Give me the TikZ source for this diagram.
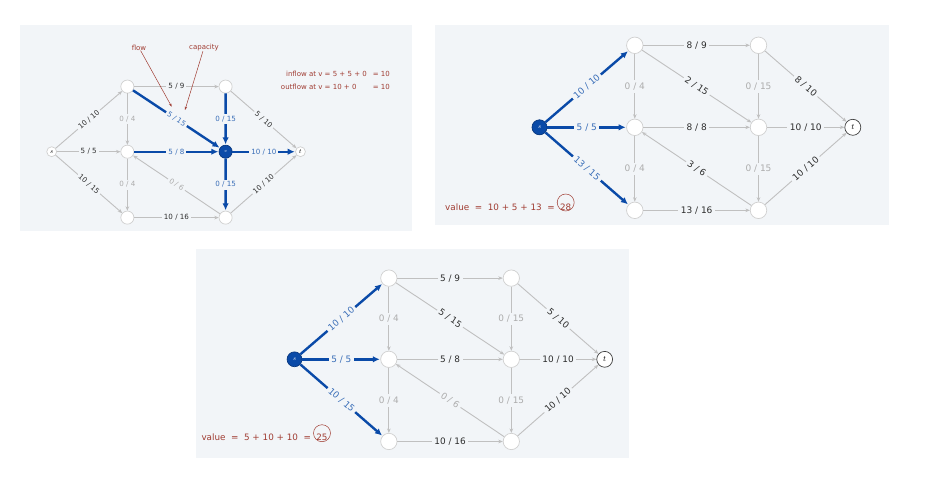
\documentclass[tikz,border=0pt]{standalone}
\usepackage{fontspec}
\setmainfont{DejaVu Sans}
\usetikzlibrary{arrows.meta,positioning}

\definecolor{panelbg}{RGB}{242,245,248}
\definecolor{flowblue}{RGB}{10,74,168}
\definecolor{flowtext}{RGB}{58,110,184}
\definecolor{edgegray}{RGB}{192,192,192}
\definecolor{ringgray}{RGB}{208,208,208}
\definecolor{usedtext}{RGB}{45,45,45}
\definecolor{zerotext}{RGB}{172,172,172}
\definecolor{notered}{RGB}{160,60,50}

\tikzset{
  vertex/.style={circle, draw=ringgray, fill=white, line width=0.7pt,
    minimum size=16.5pt, inner sep=0pt, font=\fontsize{8}{8}\selectfont},
  hot/.style={vertex, draw=flowblue!75!black, fill=flowblue, text=white},
  sink/.style={vertex, draw=black!75},
  used/.style={draw=edgegray, line width=0.9pt, -{Stealth[length=4.5pt,width=3.6pt]}},
  zero/.style={used},
  flow/.style={draw=flowblue, line width=2.4pt, -{Latex[length=7pt,width=6.5pt]},
    shorten >=0.5pt},
  lab/.style={midway, fill=panelbg, inner sep=2.5pt, text=#1text,
    font=\fontsize{9}{10}\selectfont},
  note/.style={text=notered, inner sep=0pt, font=\fontsize{7}{8.4}\selectfont},
  pointer/.style={draw=notered, line width=0.5pt, -{Stealth[length=3.5pt,width=2.4pt]}},
}

\begin{document}
\begin{tikzpicture}[x=1pt, y=-1pt]
  \path[use as bounding box, fill=white] (0,0) rectangle (946,496);
  \fill[panelbg] (20,25) rectangle (412,231);
  \fill[panelbg] (435,25) rectangle (889,225);
  \fill[panelbg] (196,249) rectangle (629,458);

  % flow conservation at v
  \begin{scope}[shift={(51.7,151.7)}, scale=0.794, transform shape, name prefix=p1-]
    \node[vertex, minimum size=12.5pt] (s) at (0,0) {$s$};
    \node[vertex] (a) at (95.3,-82) {};
    \node[vertex] (b) at (95.3,0) {};
    \node[vertex] (c) at (95.3,83) {};
    \node[vertex] (d) at (219,-82) {};
    \node[hot, font=\fontsize{6}{6}\selectfont] (e) at (219,0) {$v$};
    \node[vertex] (f) at (219,83) {};
    \node[vertex, minimum size=12.5pt] (t) at (313.3,0) {$t$};
    \foreach \u/\w/\f/\c/\st in {s/a/10/10/used, s/b/5/5/used, s/c/10/15/used,
        a/d/5/9/used, a/e/5/15/flow, b/e/5/8/flow, f/b/0/6/zero,
        c/f/10/16/used, d/t/5/10/used, e/t/10/10/flow, f/t/10/10/used}
      \draw[\st] (\u) -- node[lab=\st, sloped] {\f\ /\ \c} (\w);
    \foreach \u/\w/\f/\c/\st in {a/b/0/4/zero, b/c/0/4/zero, d/e/0/15/flow, e/f/0/15/flow}
      \draw[\st] (\u) -- node[lab=\st] {\f\ /\ \c} (\w);
  \end{scope}

  \node[note] (flowtag) at (139,47.7) {flow};
  \node[note] (captag) at (204,47.7) {capacity};
  \coordinate (flowtip) at (171.7,106.7);
  \coordinate (captip) at (185,110);
  \draw[pointer] (flowtag) -- (flowtip);
  \draw[pointer] (captag) -- (captip);

  \node[note, anchor=base east, font=\fontsize{7}{12.6}\selectfont] (balance) at (390,76.7)
    {\begin{tabular}[t]{@{}r@{\ }c@{\ }l@{\hspace{6pt}}l@{}}
      inflow at v & = & 5 + 5 + 0 & = 10\\
      outflow at v & = & 10 + 0 & = 10
    \end{tabular}};

  % a flow of value 28
  \begin{scope}[shift={(539.5,127.3)}, name prefix=p2-]
    \node[hot, minimum size=15pt, font=\fontsize{6}{6}\selectfont] (s) at (0,0) {$s$};
    \node[vertex] (a) at (95.3,-82) {};
    \node[vertex] (b) at (95.3,0) {};
    \node[vertex] (c) at (95.3,83) {};
    \node[vertex] (d) at (219,-82) {};
    \node[vertex] (e) at (219,0) {};
    \node[vertex] (f) at (219,83) {};
    \node[sink, minimum size=16pt] (t) at (313.3,0) {$t$};
    \foreach \u/\w/\f/\c/\st in {s/a/10/10/flow, s/b/5/5/flow, s/c/13/15/flow,
        a/d/8/9/used, a/e/2/15/used, b/e/8/8/used, f/b/3/6/used,
        c/f/13/16/used, d/t/8/10/used, e/t/10/10/used, f/t/10/10/used}
      \draw[\st] (\u) -- node[lab=\st, sloped] {\f\ /\ \c} (\w);
    \foreach \u/\w/\f/\c/\st in {a/b/0/4/zero, b/c/0/4/zero, d/e/0/15/zero, e/f/0/15/zero}
      \draw[\st] (\u) -- node[lab=\st] {\f\ /\ \c} (\w);
  \end{scope}

  \node[note, anchor=base west, font=\fontsize{8.8}{10}\selectfont] (val2) at (445,210)
    {value\ \ =\ \ 10 + 5 + 13\ \ =};
  \node[note, font=\fontsize{8.8}{10}\selectfont, base right=5pt of val2] (sum2) {28};
  \draw[notered, line width=0.5pt] ([yshift=4.3pt]sum2.center) circle (8.5pt);

  % a flow of value 25
  \begin{scope}[shift={(294.5,359.3)}, scale=0.99, transform shape, name prefix=p3-]
    \node[hot, minimum size=15pt, font=\fontsize{6}{6}\selectfont] (s) at (0,0) {$s$};
    \node[vertex] (a) at (95.3,-82) {};
    \node[vertex] (b) at (95.3,0) {};
    \node[vertex] (c) at (95.3,83) {};
    \node[vertex] (d) at (219,-82) {};
    \node[vertex] (e) at (219,0) {};
    \node[vertex] (f) at (219,83) {};
    \node[sink, minimum size=16pt] (t) at (313.3,0) {$t$};
    \foreach \u/\w/\f/\c/\st in {s/a/10/10/flow, s/b/5/5/flow, s/c/10/15/flow,
        a/d/5/9/used, a/e/5/15/used, b/e/5/8/used, f/b/0/6/zero,
        c/f/10/16/used, d/t/5/10/used, e/t/10/10/used, f/t/10/10/used}
      \draw[\st] (\u) -- node[lab=\st, sloped] {\f\ /\ \c} (\w);
    \foreach \u/\w/\f/\c/\st in {a/b/0/4/zero, b/c/0/4/zero, d/e/0/15/zero, e/f/0/15/zero}
      \draw[\st] (\u) -- node[lab=\st] {\f\ /\ \c} (\w);
  \end{scope}

  \node[note, anchor=base west, font=\fontsize{8.8}{10}\selectfont] (val3) at (201.3,440.7)
    {value\ \ =\ \ 5 + 10 + 10\ \ =};
  \node[note, font=\fontsize{8.8}{10}\selectfont, base right=5pt of val3] (sum3) {25};
  \draw[notered, line width=0.5pt] ([yshift=4.3pt]sum3.center) circle (8.5pt);
\end{tikzpicture}
\end{document}
